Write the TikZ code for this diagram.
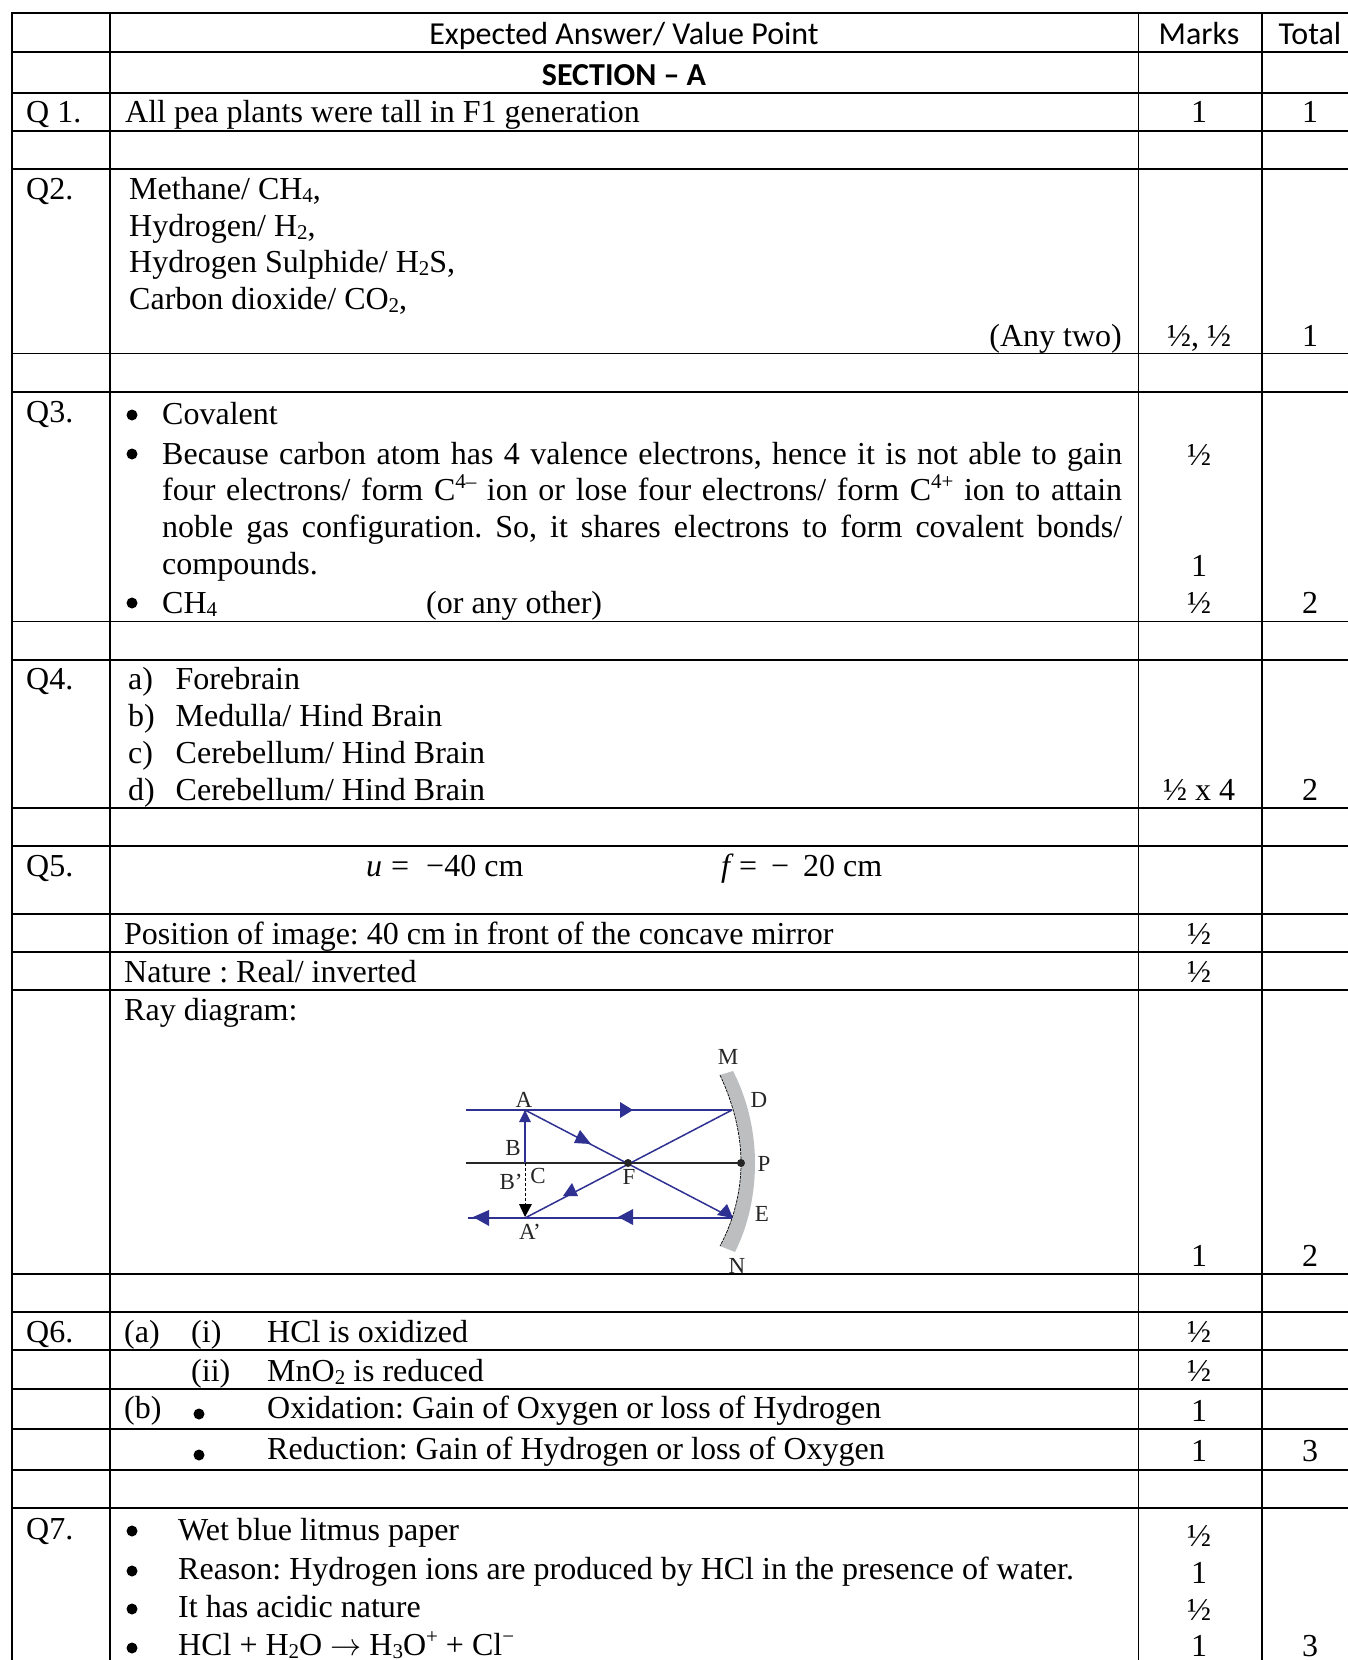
\documentclass[tikz,border=0pt]{standalone}
\usepackage{fontspec}
\setmainfont{Liberation Serif}
\newfontfamily\calibrifont{Carlito}
\usetikzlibrary{arrows.meta, calc}
\definecolor{raybluecol}{RGB}{46, 49, 146}
\definecolor{mirrorgrey}{RGB}{188, 190, 192}
\newcommand{\lowtxt}[1]{\raisebox{-0.11em}{\fontsize{21}{21}\selectfont #1}}
\newcommand{\hightxt}[1]{\raisebox{0.36em}{\fontsize{21}{21}\selectfont #1}}
\tikzset{
  ans/.style={anchor=base west, inner sep=0pt, font=\fontsize{32}{34}\selectfont\frenchspacing},
  mid/.style={anchor=base, inner sep=0pt, font=\fontsize{32}{34}\selectfont},
  rgt/.style={anchor=base east, inner sep=0pt, font=\fontsize{32}{34}\selectfont},
  head/.style={anchor=base, inner sep=0pt, font=\calibrifont\fontsize{32}{34}\selectfont},
  rule/.style={line width=1.8pt, black},
  vrule/.style={line width=1.4pt, black},
  lbl/.style={inner sep=0pt, font=\fontsize{23}{24}\selectfont, text=black!85},
  ray/.style={line width=1.5pt, raybluecol},
  tip/.style={raybluecol}
}
\begin{document}
\begin{tikzpicture}[x=1pt, y=-1pt]
  \useasboundingbox (0, 0) rectangle (1348, 1660);

  % Table rules
  \draw[rule] (12, 13) -- (1348, 13);
  \draw[rule] (12, 52) -- (1348, 52);
  \draw[rule] (12, 93) -- (1348, 93);
  \draw[rule] (12, 131) -- (1348, 131);
  \draw[rule] (12, 169) -- (1348, 169);
  \draw[rule] (12, 353.5) -- (1348, 353.5);
  \draw[rule] (12, 392) -- (1348, 392);
  \draw[rule] (12, 621.5) -- (1348, 621.5);
  \draw[rule] (12, 660) -- (1348, 660);
  \draw[rule] (12, 808) -- (1348, 808);
  \draw[rule] (12, 846) -- (1348, 846);
  \draw[rule] (12, 914) -- (1348, 914);
  \draw[rule] (12, 952) -- (1348, 952);
  \draw[rule] (12, 990) -- (1348, 990);
  \draw[rule] (12, 1274) -- (1348, 1274);
  \draw[rule] (12, 1312) -- (1348, 1312);
  \draw[rule] (12, 1350) -- (1348, 1350);
  \draw[rule] (12, 1389) -- (1348, 1389);
  \draw[rule] (12, 1429) -- (1348, 1429);
  \draw[rule] (12, 1470) -- (1348, 1470);
  \draw[rule] (12, 1508) -- (1348, 1508);

  \draw[vrule] (12, 12) -- (12, 1660);
  \draw[vrule] (110, 12) -- (110, 1660);
  \draw[vrule] (1138.5, 12) -- (1138.5, 1660);
  \draw[vrule] (1262, 12) -- (1262, 1660);

  % Header
  \node[head] (headanswer) at (624, 44.5) {Expected Answer/ Value Point};
  \node[head] (headmarks) at (1199, 44.5) {Marks};
  \node[head] (headtotal) at (1310, 44.5) {Total};
  \node[head, font=\calibrifont\bfseries\fontsize{32}{34}\selectfont] (headsection) at (624, 85) {SECTION – A};

  % Q1
  \node[ans] (qone) at (26, 122.5) {Q 1.};
  \node[ans] (aone) at (125, 122.5) {All pea plants were tall in F1 generation};
  \node[mid] (mone) at (1199, 122.5) {1};
  \node[mid] (tone) at (1310, 122.5) {1};

  % Q2
  \node[ans] (qtwo) at (26, 199) {Q2.};
  \node[ans] (atwoa) at (129, 199) {Methane/ CH\lowtxt{4},};
  \node[ans] (atwob) at (129, 236) {Hydrogen/ H\lowtxt{2},};
  \node[ans] (atwoc) at (129, 272) {Hydrogen Sulphide/ H\lowtxt{2}S,};
  \node[ans] (atwod) at (129, 309) {Carbon dioxide/ CO\lowtxt{2},};
  \node[rgt] (atwoe) at (1122, 346) {(Any two)};
  \node[mid] (mtwo) at (1199, 346) {½, ½};
  \node[mid] (ttwo) at (1310, 346) {1};

  % Q3
  \node[ans] (qthree) at (26, 422) {Q3.};
  \fill (132, 415) circle (5.5pt);
  \node[ans] (athreea) at (162, 424) {Covalent};
  \fill (132, 454) circle (5.5pt);
  \node[ans] (athreeb) at (162, 464) {\makebox[960pt][s]{Because carbon atom has 4 valence electrons, hence it is not able to gain}};
  \node[ans] (athreec) at (162, 500.5) {\makebox[960pt][s]{four electrons/ form C\hightxt{4–} ion or lose four electrons/ form C\hightxt{4+} ion to attain}};
  \node[ans] (athreed) at (162, 537.5) {\makebox[960pt][s]{noble gas configuration. So, it shares electrons to form covalent bonds/}};
  \node[ans] (athreee) at (162, 574.5) {compounds.};
  \fill (132, 603) circle (5.5pt);
  \node[ans] (athreef) at (162, 613) {CH\lowtxt{4}};
  \node[ans] (athreeg) at (426, 613) {(or any other)};
  \node[mid] (mthreea) at (1199, 465) {½};
  \node[mid] (mthreeb) at (1199, 576) {1};
  \node[mid] (mthreec) at (1199, 613) {½};
  \node[mid] (tthree) at (1310, 613) {2};

  % Q4
  \node[ans] (qfour) at (26, 689) {Q4.};
  \node[ans] (afoura) at (128, 689) {a)};
  \node[ans] (afourat) at (175.5, 689) {Forebrain};
  \node[ans] (afourb) at (128, 726) {b)};
  \node[ans] (afourbt) at (175.5, 726) {Medulla/ Hind Brain};
  \node[ans] (afourc) at (128, 763) {c)};
  \node[ans] (afourct) at (175.5, 763) {Cerebellum/ Hind Brain};
  \node[ans] (afourd) at (128, 800) {d)};
  \node[ans] (afourdt) at (175.5, 800) {Cerebellum/ Hind Brain};
  \node[mid] (mfour) at (1199, 800) {½ x 4};
  \node[mid] (tfour) at (1310, 800) {2};

  % Q5
  \node[ans] (qfive) at (26, 876) {Q5.};
  \node[ans] (afivea) at (366, 876) {\textit{u}\hspace{9pt}=\hspace{17pt}−40 cm};
  \node[ans] (afiveb) at (721, 876) {\textit{f}\,=\hspace{14pt}−\hspace{14pt}20 cm};
  \node[ans] (afivec) at (124, 944) {Position of image: 40 cm in front of the concave mirror};
  \node[mid] (mfivea) at (1199, 944) {½};
  \node[ans] (afived) at (124, 982) {Nature : Real/ inverted};
  \node[mid] (mfiveb) at (1199, 982) {½};
  \node[ans] (afivee) at (124, 1020.5) {Ray diagram:};
  \node[mid] (mfivec) at (1199, 1266) {1};
  \node[mid] (tfive) at (1310, 1266) {2};

  % Ray diagram: mirror
  \fill[mirrorgrey] (720, 1075) .. controls (733, 1103) and (741, 1133) .. (741, 1163)
    .. controls (741, 1193) and (733, 1222) .. (720, 1246) -- (735, 1252)
    .. controls (749, 1224) and (755, 1193) .. (755, 1163)
    .. controls (755, 1133) and (748, 1100) .. (733, 1071) -- cycle;
  \draw[line width=0.7pt, dashed, dash pattern=on 3pt off 1pt] (720, 1075) .. controls (733, 1103) and (741, 1133) .. (741, 1163)
    .. controls (741, 1193) and (733, 1222) .. (720, 1246);

  % Ray diagram: points
  \coordinate (ptl) at (466, 1110);
  \coordinate (ptr) at (468, 1218);
  \coordinate (pta) at (525, 1110);
  \coordinate (ptb) at (525, 1163);
  \coordinate (ptc) at (525, 1218);
  \coordinate (ptf) at (628, 1163);
  \coordinate (ptp) at (741, 1163);
  \coordinate (ptd) at (732, 1110);
  \coordinate (pte) at (732, 1218);
  \coordinate (axl) at (466, 1163);

  % Ray diagram: lines
  \draw[line width=1.3pt, black!85] (axl) -- (ptp);
  \draw[ray] (ptl) -- (ptd);
  \draw[ray] (pta) -- (pte);
  \draw[ray] (ptd) -- (ptc);
  \draw[ray] (pte) -- (ptr);
  \draw[line width=2.6pt, raybluecol] (ptb) -- (pta);
  \draw[line width=1pt, dashed, dash pattern=on 3pt off 2pt, black] (ptb) -- (ptc);
  \fill[black!85] (ptf) circle (4pt);
  \fill[black!85] (ptp) circle (4pt);

  % Ray diagram: arrowheads
  \fill[tip] (620, 1102) -- (633, 1110) -- (620, 1118) -- cycle;
  \fill[tip] (519, 1122) -- (525, 1110) -- (531, 1122) -- cycle;
  \fill[tip] (574, 1143) -- (580, 1130) -- (591, 1144) -- cycle;
  \fill[tip] (717, 1215) -- (727, 1204) -- (733, 1218) -- cycle;
  \fill[tip] (563, 1196) -- (572, 1183) -- (578, 1196) -- cycle;
  \fill[tip] (618, 1217) -- (633, 1209) -- (633, 1225) -- cycle;
  \fill[tip] (473, 1217) -- (489, 1210) -- (489, 1226) -- cycle;
  \fill[black] (519, 1204) -- (532, 1204) -- (525, 1217) -- cycle;

  % Ray diagram: labels
  \node[lbl] (lblm) at (728, 1057) {M};
  \node[lbl] (lbld) at (759, 1100) {D};
  \node[lbl] (lblp) at (764, 1164) {P};
  \node[lbl] (lble) at (762, 1214) {E};
  \node[lbl] (lbln) at (737, 1266) {N};
  \node[lbl] (lbla) at (524, 1100) {A};
  \node[lbl] (lblb) at (513, 1148) {B};
  \node[lbl] (lblc) at (538, 1176) {C};
  \node[lbl] (lblbp) at (511, 1182) {B'};
  \node[lbl] (lblf) at (629, 1177) {F};
  \node[lbl] (lblap) at (530, 1232) {A'};

  % Q6
  \node[ans] (qsix) at (26, 1342) {Q6.};
  \node[ans] (asixa) at (124, 1342) {(a)};
  \node[ans] (asixi) at (191, 1342) {(i)};
  \node[ans] (asixat) at (267, 1342) {HCl is oxidized};
  \node[mid] (msixa) at (1199, 1342) {½};
  \node[ans] (asixii) at (191, 1381) {(ii)};
  \node[ans] (asixbt) at (267, 1381) {MnO\lowtxt{2} is reduced};
  \node[mid] (msixb) at (1199, 1381) {½};
  \node[ans] (asixb) at (124, 1418.5) {(b)};
  \fill (199, 1414) circle (5.5pt);
  \node[ans] (asixct) at (267, 1418.5) {Oxidation: Gain of Oxygen or loss of Hydrogen};
  \node[mid] (msixc) at (1199, 1421) {1};
  \fill (199, 1455) circle (5.5pt);
  \node[ans] (asixdt) at (267, 1459.5) {Reduction: Gain of Hydrogen or loss of Oxygen};
  \node[mid] (msixd) at (1199, 1461.5) {1};
  \node[mid] (tsix) at (1310, 1461.5) {3};

  % Q7
  \node[ans] (qseven) at (26, 1539) {Q7.};
  \fill (132, 1531) circle (5.5pt);
  \node[ans] (asevena) at (178, 1540.5) {Wet blue litmus paper};
  \node[mid] (msevena) at (1199, 1546) {½};
  \fill (132, 1571) circle (5.5pt);
  \node[ans] (asevenb) at (178, 1579) {Reason: Hydrogen ions are produced by HCl in the presence of water.};
  \node[mid] (msevenb) at (1199, 1583) {1};
  \fill (132, 1609) circle (5.5pt);
  \node[ans] (asevenc) at (178, 1617.5) {It has acidic nature};
  \node[mid] (msevenc) at (1199, 1620) {½};
  \fill (132, 1648) circle (5.5pt);
  \node[ans] (asevend) at (178, 1655) {HCl + H\lowtxt{2}O \scalebox{1.25}{$\rightarrow$} H\lowtxt{3}O\hightxt{+} + Cl\hightxt{−}};
  \node[mid] (msevend) at (1199, 1656) {1};
  \node[mid] (tseven) at (1310, 1656) {3};
\end{tikzpicture}
\end{document}
